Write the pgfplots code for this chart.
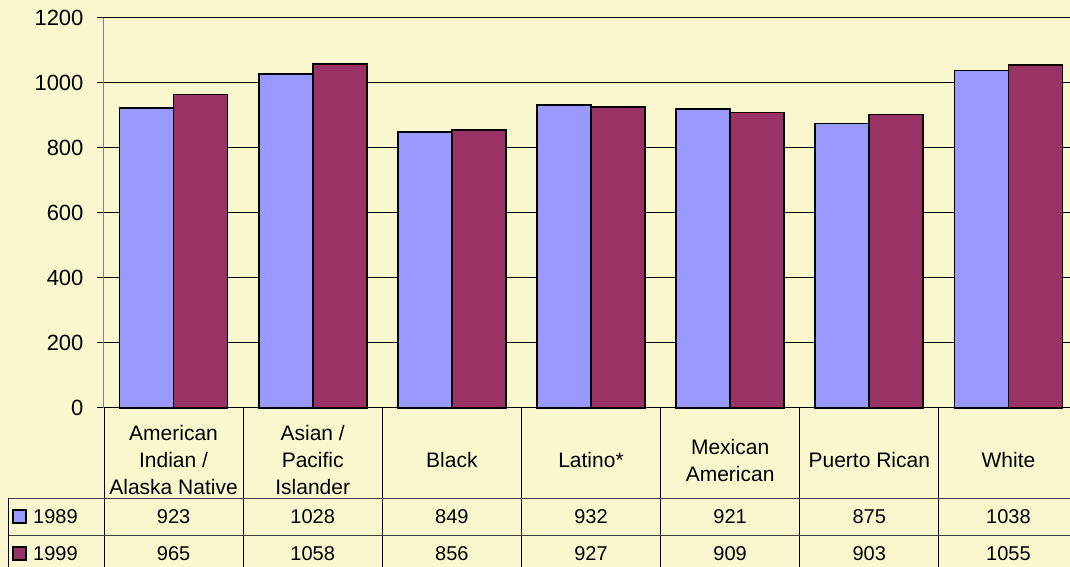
\documentclass[border=0pt]{standalone}
\usepackage{fontspec}
\setmainfont{Liberation Sans}
\usepackage{pgfplots}
\usepackage{pgfplotstable}
\pgfplotsset{compat=1.18}
\definecolor{bg}{RGB}{249,247,206}
\definecolor{c89}{RGB}{153,153,255}
\definecolor{c99}{RGB}{153,51,102}

% scores by group, 1989 and 1999
\pgfplotstableread{
x y89 y99
0 923 965
1 1028 1058
2 849 856
3 932 927
4 921 909
5 875 903
6 1038 1055
}\data

\begin{document}
\begin{tikzpicture}[x=1pt,y=1pt]
\fill[bg] (-104,-159) rectangle (966,408);
\begin{axis}[
    scale only axis,
    width=974pt, height=390pt,
    at={(0,0)}, anchor=south west,
    xmin=-0.5, xmax=6.5,
    ymin=0, ymax=1200,
    ytick={0,200,...,1200},
    xtick=data,
    xticklabels={American\\Indian /\\Alaska Native, Asian /\\Pacific\\Islander, Black, Latino*, Mexican\\American, Puerto Rican, White},
    xticklabel style={anchor=center, yshift=-45pt, align=center,
        font=\fontsize{21}{27}\selectfont},
    x tick style={draw=none},
    axis x line*=bottom,
    x axis line style={draw=none},
    axis y line*=left,
    y axis line style={draw=gray, line width=1pt, -},
    y tick style={black, line width=1pt},
    tick align=outside,
    major tick length=7pt,
    ymajorgrids,
    grid style={black, line width=1pt},
    yticklabel style={font=\fontsize{22}{26}\selectfont, xshift=-10pt},
    /pgf/number format/assume math mode=true,
    /pgf/number format/1000 sep={},
    clip=false,
    every node near coord/.style={anchor=center, font=\fontsize{20}{24}\selectfont},
]
\addplot[ybar, bar width=54pt, bar shift=-27pt, draw=black, line width=1.7pt, fill=c89]
    table[x=x, y=y89] {\data};
\addplot[ybar, bar width=54pt, bar shift=27pt, draw=black, line width=1.7pt, fill=c99]
    table[x=x, y=y99] {\data};
% values in the data table below the chart
\addplot[draw=none, mark=none, nodes near coords, point meta=explicit symbolic]
    table[x=x, y expr=-333.8, meta=y89] {\data};
\addplot[draw=none, mark=none, nodes near coords, point meta=explicit symbolic]
    table[x=x, y expr=-447.7, meta=y99] {\data};
\end{axis}
% table grid
\foreach \k in {0,...,6}
    \draw[black, line width=0.8pt] ({139.14*\k},0) -- ({139.14*\k},-165);
\draw[black!75, line width=0.8pt] (-96,-90) -- (974,-90);
\draw[black!75, line width=0.8pt] (-96,-127) -- (974,-127);
\draw[black, line width=0.8pt] (-96,-90) -- (-96,-165);
% legend keys
\draw[black, line width=1.2pt, fill=c89] (-91,-115) rectangle (-78,-102);
\node[anchor=west, font=\fontsize{20}{24}\selectfont, inner sep=0pt] at (-71,-108.5) {1989};
\draw[black, line width=1.2pt, fill=c99] (-91,-152) rectangle (-78,-139);
\node[anchor=west, font=\fontsize{20}{24}\selectfont, inner sep=0pt] at (-71,-145.5) {1999};
\pgfresetboundingbox
\path (-104,-159) rectangle (966,408);
\end{tikzpicture}
\end{document}
